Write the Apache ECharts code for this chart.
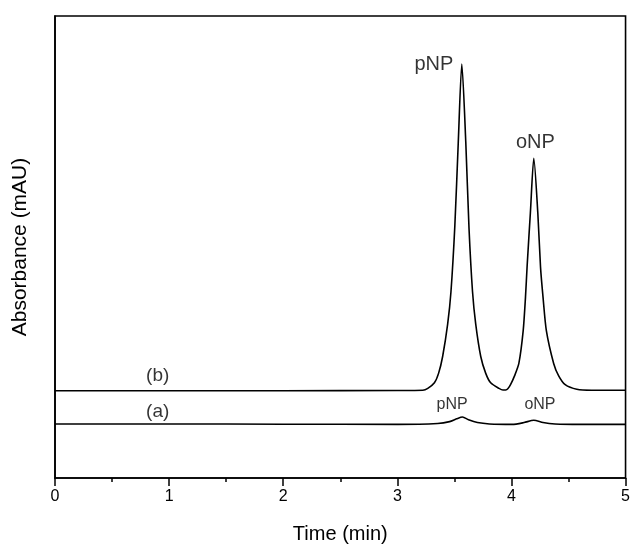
<!DOCTYPE html>
<html>
<head>
<meta charset="utf-8">
<script src="https://cdn.jsdelivr.net/npm/echarts@6/dist/echarts.min.js"></script>
<style>
  html, body { margin: 0; padding: 0; background: #fff; }
  #chart { width: 633px; height: 549px; }
</style>
</head>
<body>
<div id="chart"></div>
<script>
// trace (b): [time (min), absorbance]
var traceB = [
  [0, 18.9], [1, 18.9], [2, 18.9], [3, 18.95], [3.223, 19.0], [3.267, 19.4], [3.325, 20.6],
  [3.362, 22.7], [3.397, 26.3], [3.441, 33.3], [3.470, 40.3], [3.504, 54.6],
  [3.534, 72.6], [3.565, 89.6], [3.600, 72.6], [3.628, 54.1], [3.659, 40.3],
  [3.687, 33.3], [3.731, 26.3], [3.774, 22.7], [3.818, 20.6], [3.891, 19.4],
  [3.925, 19.05], [3.950, 19.05], [3.968, 19.3], [3.992, 20.2], [4.027, 22.1], [4.065, 24.8],
  [4.103, 31.9], [4.123, 39.1], [4.138, 46.1], [4.166, 57.4], [4.196, 69.2],
  [4.231, 57.4], [4.255, 45.6], [4.277, 39.1], [4.306, 31.9], [4.370, 24.8],
  [4.414, 22.1], [4.471, 20.2], [4.573, 19.2], [4.704, 19.0], [5, 19.0]
]
// trace (a)
var traceA = [
  [0, 11.7], [1, 11.7], [2, 11.65], [3.005, 11.6], [3.354, 11.8], [3.458, 12.2],
  [3.519, 12.8], [3.571, 13.2], [3.624, 12.6], [3.702, 12.0], [3.807, 11.7],
  [4.007, 11.6], [4.111, 12.0], [4.196, 12.5], [4.277, 12.0], [4.382, 11.7],
  [4.6, 11.6], [5, 11.6]
]
// annotations: [x, y, text, font size]
var notes = [
  [3.32, 89.4, 'pNP', 20],
  [4.21, 72.6, 'oNP', 20],
  [3.48, 15.8, 'pNP', 16],
  [4.25, 15.8, 'oNP', 16],
  [0.90, 22.1, '(b)', 19],
  [0.90, 14.4, '(a)', 19]
]
var xTicks = [0, 1, 2, 3, 4, 5]

var chart = echarts.init(document.getElementById('chart'))
var font = 'Liberation Sans, Arial, sans-serif'

chart.setOption({
  animation: false,
  grid: {
    left: 55, right: 4, top: 16, bottom: 62,
    show: true, borderColor: '#000', borderWidth: 1.6, backgroundColor: 'transparent'
  },
  xAxis: {
    type: 'value', min: 0, max: 5, interval: 1,
    name: 'Time (min)', nameLocation: 'middle', nameGap: 46,
    nameTextStyle: { color: '#000', fontSize: 20, fontFamily: font },
    axisLine: { show: true, lineStyle: { color: '#000', width: 1.6 } },
    axisTick: { show: true, length: 8, lineStyle: { color: '#000', width: 1.5 } },
    minorTick: { show: true, splitNumber: 2, length: 4, lineStyle: { color: '#000', width: 1.5 } },
    axisLabel: {
      color: '#000', fontSize: 16, fontFamily: font, margin: 11,
      formatter: function(v) { return xTicks.indexOf(v) >= 0 ? String(v) : '' }
    },
    splitLine: { show: false }
  },
  yAxis: {
    type: 'value', min: 0, max: 100,
    name: 'Absorbance (mAU)', nameLocation: 'middle', nameGap: 24,
    nameTextStyle: { color: '#000', fontSize: 21, fontFamily: font },
    axisLine: { show: true, lineStyle: { color: '#000', width: 1.6 } },
    axisTick: { show: false },
    axisLabel: { show: false },
    splitLine: { show: false }
  },
  series: [
    {
      type: 'line', data: traceB, smooth: 0.25, symbol: 'none',
      lineStyle: { color: '#000', width: 1.6 }
    },
    {
      type: 'line', data: traceA, smooth: 0.25, symbol: 'none',
      lineStyle: { color: '#000', width: 1.6 }
    },
    {
      type: 'scatter', symbolSize: 0, silent: true,
      data: notes.map(function(n) {
        return {
          value: [n[0], n[1]],
          label: {
            show: true, position: 'inside', formatter: n[2],
            color: '#000', fontSize: n[3], fontFamily: font
          }
        }
      })
    }
  ]
})
</script>
</body>
</html>
